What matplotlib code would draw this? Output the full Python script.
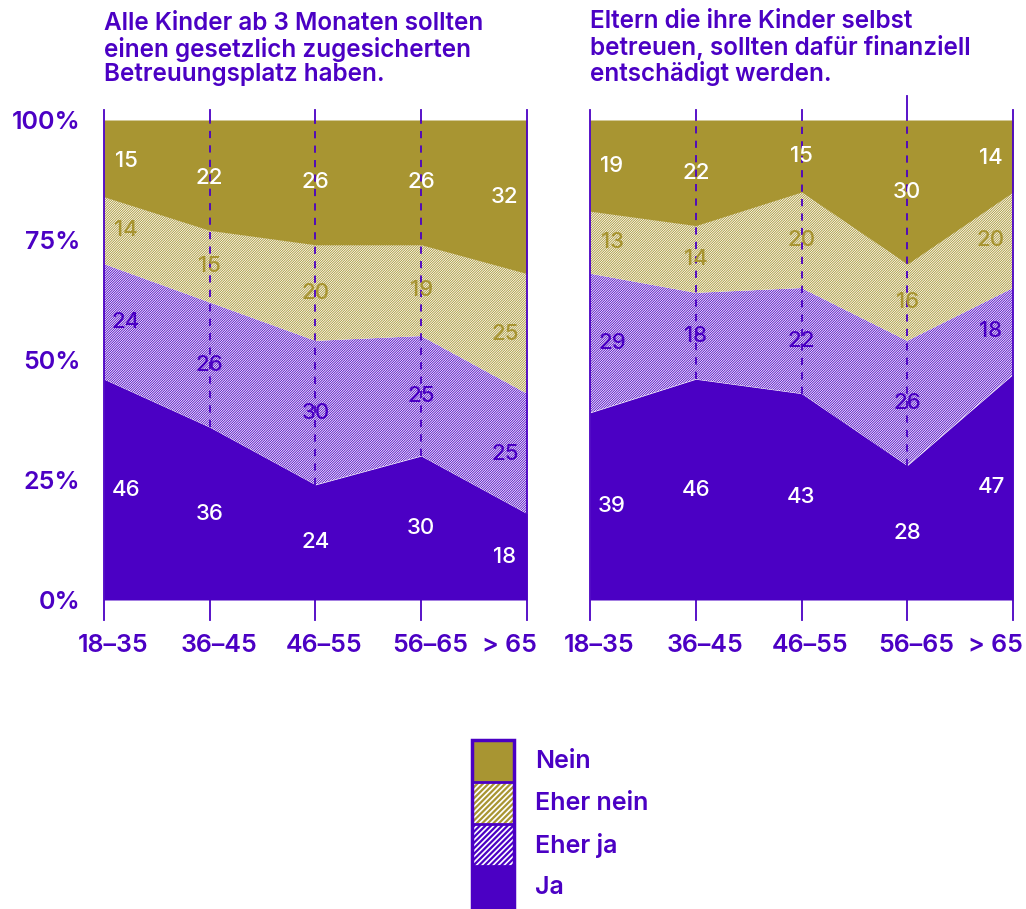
import matplotlib
matplotlib.use("Agg")
import matplotlib.pyplot as plt
from matplotlib.patches import Rectangle
import numpy as np

plt.rcParams["font.family"] = ["Inter", "DejaVu Sans"]
plt.rcParams["hatch.linewidth"] = 0.6

PURPLE = "#4B00C4"
OLIVE = "#A89532"

groups = ["18–35", "36–45", "46–55", "56–65", "> 65"]
categories = ["Ja", "Eher ja", "Eher nein", "Nein"]

left_title = "Alle Kinder ab 3 Monaten sollten\neinen gesetzlich zugesicherten\nBetreuungsplatz haben."
left_ja = [46, 36, 24, 30, 18]
left_eher_ja = [24, 26, 30, 25, 25]
left_eher_nein = [14, 15, 20, 19, 25]
left_nein = [15, 22, 26, 26, 32]

right_title = "Eltern die ihre Kinder selbst\nbetreuen, sollten dafür finanziell\nentschädigt werden."
right_ja = [39, 46, 43, 28, 47]
right_eher_ja = [29, 18, 22, 26, 18]
right_eher_nein = [13, 14, 20, 16, 20]
right_nein = [19, 22, 15, 30, 14]

yticks = [0, 25, 50, 75, 100]
ytick_labels = ["0%", "25%", "50%", "75%", "100%"]

# face, hatch colour, hatch, label colour
styles = {
    "Ja": (PURPLE, PURPLE, None, "white"),
    "Eher ja": ("white", PURPLE, "/" * 14, PURPLE),
    "Eher nein": ("white", OLIVE, "/" * 14, OLIVE),
    "Nein": (OLIVE, OLIVE, None, "white"),
}

W, H = 1026, 909
PX = 105.75  # pixels per x unit inside a panel
fig = plt.figure(figsize=(W / 100, H / 100), dpi=100)


def draw_panel(ax, title, series, show_y, tall_line=None):
    x = np.arange(len(groups))
    base = np.zeros(len(groups))
    tops = {}
    for k, (cat, vals) in enumerate(zip(categories, series)):
        vals = np.array(vals, dtype=float)
        face, hc, hatch, _ = styles[cat]
        upper = base + vals
        if k == len(categories) - 1:
            upper = np.full(len(groups), 100.0)  # top band fills to 100 %
        ax.fill_between(x, base, upper, facecolor=face, edgecolor=hc,
                        hatch=hatch, linewidth=0, zorder=1)
        tops[cat] = (base.copy(), vals)
        base = base + vals

    # value labels in the middle of each band
    off = 22 / PX
    for cat in categories:
        b, vals = tops[cat]
        col = styles[cat][3]
        for i, v in enumerate(vals):
            xi = i + (off if i == 0 else -off if i == len(groups) - 1 else 0)
            ax.text(xi, b[i] + v / 2, f"{int(v)}", ha="center", va="center",
                    color=col, fontsize=16, fontweight="medium", zorder=5)

    ja_top = np.array(series[0], dtype=float)
    for i in range(len(groups)):
        top = 105 if i == tall_line else 102
        if i == 0 or i == len(groups) - 1:
            ax.plot([i, i], [-4.2, top], color=PURPLE, lw=1.3, zorder=4, clip_on=False)
        else:
            ax.plot([i, i], [ja_top[i], 100], color=PURPLE, lw=1.3, ls=(0, (4, 4)),
                    zorder=4, clip_on=False)
            ax.plot([i, i], [100, top], color=PURPLE, lw=1.3, zorder=4, clip_on=False)
            ax.plot([i, i], [-4.2, 0], color=PURPLE, lw=1.3, zorder=4, clip_on=False)

    ax.set_xlim(0, len(groups) - 1)
    ax.set_ylim(0, 100)
    for s in ax.spines.values():
        s.set_visible(False)
    ax.set_xticks([])
    # category labels, nudged like the original
    for i, g in enumerate(groups):
        if i == len(groups) - 1:
            ax.text(i + 10 / PX, -9.4, g, ha="right", va="center", fontsize=18,
                    color=PURPLE, fontweight="semibold", clip_on=False)
        else:
            ax.text(i + 9 / PX, -9.4, g, ha="center", va="center", fontsize=18,
                    color=PURPLE, fontweight="semibold", clip_on=False)
    ax.set_yticks(yticks)
    if show_y:
        ax.set_yticklabels(ytick_labels, fontsize=18, color=PURPLE, fontweight="semibold")
        ax.tick_params(axis="y", length=0, pad=17)
    else:
        ax.set_yticklabels([])
        ax.tick_params(axis="y", length=0)
    ax.text(0, 1.0 + 34 / 480, title, transform=ax.transAxes, ha="left", va="bottom",
            fontsize=17.5, color=PURPLE, fontweight="semibold", linespacing=1.07)


ax1 = fig.add_axes([104 / W, 1 - 600 / H, 423 / W, 480 / H])
ax2 = fig.add_axes([590 / W, 1 - 600 / H, 423 / W, 480 / H])
draw_panel(ax1, left_title, [left_ja, left_eher_ja, left_eher_nein, left_nein], True)
draw_panel(ax2, right_title, [right_ja, right_eher_ja, right_eher_nein, right_nein], False,
           tall_line=3)

# legend
lax = fig.add_axes([472 / W, 1 - 908 / H, 42 / W, 168 / H])
lax.set_xlim(0, 1)
lax.set_ylim(0, 4)
lax.axis("off")
with plt.rc_context({"hatch.linewidth": 1.6}):
    for j, cat in enumerate(categories):
        face, hc, hatch, _ = styles[cat]
        lax.add_patch(Rectangle((0, j), 1, 1, facecolor=face, edgecolor=hc,
                                hatch="//////" if hatch else None, linewidth=0))
        fig.text(535 / W, 1 - (888 - 42 * j) / H, cat, ha="left", va="center",
                 fontsize=18, color=PURPLE, fontweight="semibold")
lax.add_patch(Rectangle((0, 0), 1, 4, facecolor="none", edgecolor=PURPLE, linewidth=2.5,
                        clip_on=False))
for j in range(1, 4):
    lax.plot([0, 1], [j, j], color=PURPLE, lw=2)

fig.savefig("out.png", dpi=100)
